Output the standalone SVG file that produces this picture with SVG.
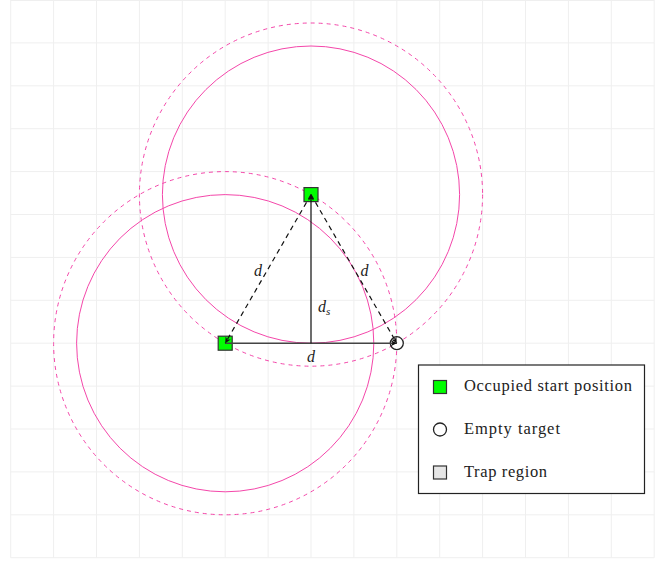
<svg xmlns="http://www.w3.org/2000/svg" width="659" height="561" viewBox="0 0 659 561">
<defs>
<style>
.grid line{stroke:#efefef;stroke-width:1}
.circ{fill:none;stroke:#f447aa;stroke-width:1}
.circd{fill:none;stroke:#f447aa;stroke-width:1;stroke-dasharray:4 4}
.occ{fill:#00ff00;stroke:#333;stroke-width:1.2}
.tgt{fill:#fff;stroke:#222;stroke-width:1.3}
.trap{fill:#e6e6e6;stroke:#333;stroke-width:1.2}
.lbl{font-family:"Liberation Serif","DejaVu Serif",serif;font-style:italic;font-size:16px;fill:#222}
.leg{font-family:"Liberation Serif","DejaVu Serif",serif;font-size:16.5px;fill:#222}
</style>
<marker id="ah" viewBox="0 0 10 10" refX="10" refY="5" markerWidth="6" markerHeight="6" markerUnits="userSpaceOnUse" orient="auto">
<path d="M0,0 L10,5 L0,10 L3,5 Z" fill="#111"/>
</marker>
</defs>
<rect width="659" height="561" fill="#fff"/>
<g class="grid">
<line x1="10.7" y1="0" x2="10.7" y2="557.7"/>
<line x1="53.6" y1="0" x2="53.6" y2="557.7"/>
<line x1="96.5" y1="0" x2="96.5" y2="557.7"/>
<line x1="139.4" y1="0" x2="139.4" y2="557.7"/>
<line x1="182.3" y1="0" x2="182.3" y2="557.7"/>
<line x1="225.2" y1="0" x2="225.2" y2="557.7"/>
<line x1="268.1" y1="0" x2="268.1" y2="557.7"/>
<line x1="311" y1="0" x2="311" y2="557.7"/>
<line x1="353.9" y1="0" x2="353.9" y2="557.7"/>
<line x1="396.8" y1="0" x2="396.8" y2="557.7"/>
<line x1="439.7" y1="0" x2="439.7" y2="557.7"/>
<line x1="482.6" y1="0" x2="482.6" y2="557.7"/>
<line x1="525.5" y1="0" x2="525.5" y2="557.7"/>
<line x1="568.4" y1="0" x2="568.4" y2="557.7"/>
<line x1="611.3" y1="0" x2="611.3" y2="557.7"/>
<line x1="654.2" y1="0" x2="654.2" y2="557.7"/>
<line x1="10.7" y1="0.5" x2="654.2" y2="0.5"/>
<line x1="10.7" y1="42.9" x2="654.2" y2="42.9"/>
<line x1="10.7" y1="85.8" x2="654.2" y2="85.8"/>
<line x1="10.7" y1="128.7" x2="654.2" y2="128.7"/>
<line x1="10.7" y1="171.6" x2="654.2" y2="171.6"/>
<line x1="10.7" y1="214.5" x2="654.2" y2="214.5"/>
<line x1="10.7" y1="257.4" x2="654.2" y2="257.4"/>
<line x1="10.7" y1="300.3" x2="654.2" y2="300.3"/>
<line x1="10.7" y1="343.2" x2="654.2" y2="343.2"/>
<line x1="10.7" y1="386.1" x2="654.2" y2="386.1"/>
<line x1="10.7" y1="429" x2="654.2" y2="429"/>
<line x1="10.7" y1="471.9" x2="654.2" y2="471.9"/>
<line x1="10.7" y1="514.8" x2="654.2" y2="514.8"/>
<line x1="10.7" y1="557.7" x2="654.2" y2="557.7"/>
</g>
<g id="trap-regions">
<circle class="circ" cx="225.2" cy="343.2" r="148.6"/>
<circle class="circd" cx="225.2" cy="343.2" r="171.6"/>
<circle class="circ" cx="311" cy="194.6" r="148.6"/>
<circle class="circd" cx="311" cy="194.6" r="171.6"/>
</g>
<g id="start-left"><rect class="occ" x="218.2" y="336.2" width="14" height="14"/></g>
<g id="start-top"><rect class="occ" x="304" y="187.6" width="14" height="14"/></g>
<g id="target"><circle class="tgt" cx="396.8" cy="343.2" r="6.5"/></g>
<g id="connectors">
<line x1="225.2" y1="343.2" x2="396.8" y2="343.2" stroke="#444" stroke-width="1.6" marker-end="url(#ah)"/>
<line x1="311" y1="343.2" x2="311" y2="194.6" stroke="#111" stroke-width="1.2" marker-end="url(#ah)"/>
<line x1="311" y1="194.6" x2="225.2" y2="343.2" stroke="#111" stroke-width="1.2" stroke-dasharray="5 4" marker-end="url(#ah)"/>
<line x1="311" y1="194.6" x2="396.8" y2="343.2" stroke="#111" stroke-width="1.2" stroke-dasharray="5 4" marker-end="url(#ah)"/>
</g>
<g id="labels">
<text class="lbl" x="258" y="276" text-anchor="middle">d</text>
<text class="lbl" x="364.5" y="276" text-anchor="middle">d</text>
<text class="lbl" x="318" y="312">d<tspan font-size="11" dy="3">s</tspan></text>
<text class="lbl" x="311" y="362" text-anchor="middle">d</text>
</g>
<g id="legend">
<rect x="418.5" y="365" width="226" height="128.5" fill="#fff" stroke="#222" stroke-width="1.2"/>
<rect class="occ" x="433.5" y="380.5" width="13" height="13"/>
<text class="leg" x="464" y="391" textLength="168" lengthAdjust="spacing">Occupied start position</text>
<circle class="tgt" cx="440" cy="429.5" r="6.5"/>
<text class="leg" x="464" y="434" textLength="96" lengthAdjust="spacing">Empty target</text>
<rect class="trap" x="433.5" y="466" width="13" height="13"/>
<text class="leg" x="464" y="477" textLength="83" lengthAdjust="spacing">Trap region</text>
</g>
</svg>
